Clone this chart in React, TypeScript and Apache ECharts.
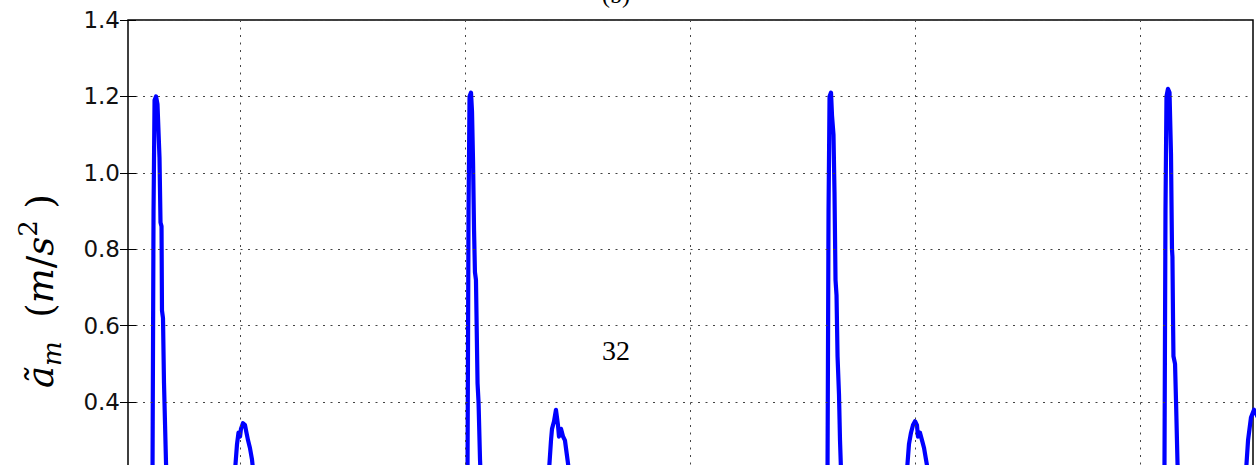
import React, { useEffect, useRef } from "react";
import * as echarts from "echarts";

// time axis (arbitrary units, 0..10 across the plot)
const timeS = [
  0.0, 0.1, 0.196, 0.218, 0.227, 0.236, 0.249, 0.262, 0.28, 0.289, 0.298, 0.302, 0.311, 0.32, 0.338, 0.356,
  0.5, 0.7, 0.907, 0.951, 0.969, 0.982, 0.996, 1.004, 1.022, 1.04, 1.053, 1.067, 1.084, 1.102, 1.12, 1.156,
  1.529, 2.24, 2.773,
  2.996, 3.018, 3.027, 3.036, 3.049, 3.058, 3.067, 3.076, 3.084, 3.093, 3.107, 3.116, 3.129, 3.147,
  3.4, 3.707, 3.742, 3.76, 3.769, 3.787, 3.804, 3.822, 3.831, 3.849, 3.867, 3.884, 3.902, 3.92, 3.956,
  4.373, 5.084, 5.884,
  6.196, 6.218, 6.227, 6.236, 6.249, 6.258, 6.271, 6.28, 6.289, 6.298, 6.307, 6.32, 6.329, 6.338, 6.356,
  6.6, 6.889, 6.924, 6.942, 6.96, 6.978, 6.996, 7.013, 7.022, 7.04, 7.058, 7.076, 7.093, 7.111, 7.147,
  7.573, 8.284, 8.907,
  9.191, 9.213, 9.222, 9.231, 9.244, 9.258, 9.271, 9.28, 9.284, 9.289, 9.293, 9.307, 9.316, 9.329, 9.351,
  9.6, 9.902, 9.938, 9.956, 9.982, 10.009, 10.044,
];

// filtered acceleration magnitude (m/s^2)
const accel = [
  0.11, 0.09, 0.12, 0.22, 0.9, 1.19, 1.2, 1.18, 1.04, 0.87, 0.86, 0.64, 0.62, 0.45, 0.24, 0.12,
  0.08, 0.1, 0.12, 0.22, 0.29, 0.32, 0.31, 0.33, 0.345, 0.34, 0.32, 0.3, 0.28, 0.25, 0.2, 0.12,
  0.1, 0.14, 0.1,
  0.12, 0.22, 0.9, 1.2, 1.21, 1.16, 1.03, 0.85, 0.74, 0.72, 0.45, 0.4, 0.25, 0.12,
  0.09, 0.12, 0.22, 0.3, 0.33, 0.35, 0.38, 0.34, 0.31, 0.33, 0.31, 0.3, 0.26, 0.22, 0.12,
  0.08, 0.13, 0.1,
  0.12, 0.22, 0.9, 1.2, 1.21, 1.15, 1.1, 0.95, 0.72, 0.68, 0.52, 0.42, 0.3, 0.22, 0.12,
  0.09, 0.12, 0.22, 0.29, 0.32, 0.34, 0.35, 0.34, 0.31, 0.32, 0.3, 0.28, 0.25, 0.22, 0.12,
  0.1, 0.14, 0.09,
  0.12, 0.22, 0.9, 1.2, 1.22, 1.21, 1.05, 0.8, 0.78, 0.62, 0.52, 0.5, 0.4, 0.24, 0.12,
  0.1, 0.12, 0.22, 0.3, 0.36, 0.38, 0.36,
];

const xGridValues = [1, 3, 5, 7, 9];
const visibleYLabels = ["0.4", "0.6", "0.8", "1.0", "1.2", "1.4"];
const panelLabel = "(b)";
const pageNumber = "32";

export default function App() {
  const ref = useRef<HTMLDivElement>(null);

  useEffect(() => {
    if (!ref.current) return;
    const chart = echarts.init(ref.current, null, { renderer: "svg" });
    const data = timeS.map((t, i) => [t, accel[i]]);
    const gridLine = { color: "#444", width: 1, type: [2, 5.5] as number[] };
    const tickStyle = { color: "#000", width: 1 };

    chart.setOption({
      animation: false,
      backgroundColor: "#fff",
      grid: {
        left: 128,
        right: 4,
        top: 20,
        bottom: 45,
        show: true,
        borderColor: "#000",
        borderWidth: 1.5,
        backgroundColor: "transparent",
        containLabel: false,
      },
      xAxis: [
        {
          type: "value",
          min: 0,
          max: 10,
          position: "bottom",
          z: 3,
          axisLine: { show: false },
          axisTick: { show: true, inside: true, length: 8, customValues: xGridValues, lineStyle: tickStyle },
          axisLabel: { show: false, customValues: xGridValues },
          splitLine: { show: true, lineStyle: gridLine },
        },
        {
          type: "value",
          min: 0,
          max: 10,
          position: "top",
          z: 3,
          axisLine: { show: false },
          axisTick: { show: true, inside: true, length: 8, customValues: xGridValues, lineStyle: tickStyle },
          axisLabel: { show: false, customValues: xGridValues },
          splitLine: { show: false },
        },
      ],
      yAxis: [
        {
          type: "value",
          min: 0,
          max: 1.4,
          interval: 0.2,
          position: "left",
          z: 3,
          axisLine: { show: false },
          axisTick: { show: true, inside: true, length: 8, lineStyle: tickStyle },
          axisLabel: {
            margin: 8,
            fontFamily: "DejaVu Sans",
            fontSize: 23,
            color: "#111",
            formatter: (v: number) => {
              const s = v.toFixed(1);
              return visibleYLabels.indexOf(s) >= 0 ? s : "";
            },
          },
          splitLine: { show: true, lineStyle: gridLine },
        },
        {
          type: "value",
          min: 0,
          max: 1.4,
          interval: 0.2,
          position: "right",
          z: 3,
          axisLine: { show: false },
          axisTick: { show: true, inside: true, length: 8, lineStyle: tickStyle },
          axisLabel: { show: false },
          splitLine: { show: false },
        },
      ],
      series: [
        {
          type: "line",
          data,
          xAxisIndex: 0,
          yAxisIndex: 0,
          symbol: "none",
          showSymbol: false,
          clip: true,
          z: 2,
          lineStyle: { color: "#0000ff", width: 4.2, join: "round", cap: "round" },
        },
      ],
      graphic: [
        {
          type: "text",
          x: 40,
          y: 291,
          rotation: Math.PI / 2,
          z: 10,
          style: {
            text: "{i|ã}{sub|m}{r|  (}{i|m}{r|/}{i|s}{sup|2}{r| )}",
            align: "center",
            verticalAlign: "middle",
            fill: "#000",
            rich: {
              i: { fontFamily: "DejaVu Serif", fontStyle: "italic", fontSize: 37, lineHeight: 50, fill: "#000" },
              r: { fontFamily: "DejaVu Serif", fontSize: 37, lineHeight: 50, fill: "#000" },
              sub: { fontFamily: "DejaVu Serif", fontStyle: "italic", fontSize: 26, lineHeight: 25, verticalAlign: "bottom", fill: "#000" },
              sup: { fontFamily: "DejaVu Serif", fontSize: 26, lineHeight: 25, verticalAlign: "top", fill: "#000" },
            },
          },
        },
        {
          type: "text",
          x: 616,
          y: 7,
          z: 10,
          style: {
            text: panelLabel,
            fontFamily: "Liberation Serif",
            fontSize: 24,
            fill: "#000",
            align: "center",
            verticalAlign: "bottom",
          },
        },
        {
          type: "text",
          x: 616,
          y: 350,
          z: 10,
          style: {
            text: pageNumber,
            fontFamily: "Liberation Serif",
            fontSize: 28,
            fill: "#000",
            align: "center",
            verticalAlign: "middle",
          },
        },
      ],
    });

    return () => chart.dispose();
  }, []);

  return (
    <div
      style={{
        position: "absolute",
        left: 0,
        top: 0,
        width: 1257,
        height: 465,
        overflow: "hidden",
        background: "#fff",
      }}
    >
      <div ref={ref} style={{ width: 1257, height: 600 }} />
    </div>
  );
}
